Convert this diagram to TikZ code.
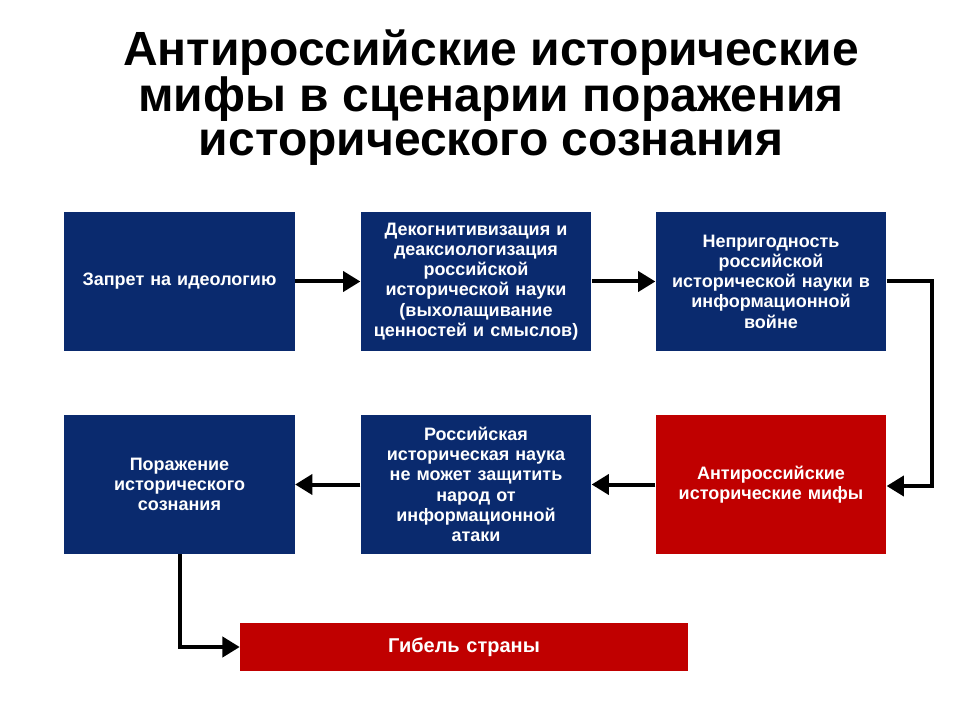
\documentclass[tikz,border=0pt]{standalone}
\usepackage{fontspec}
\setmainfont{Liberation Sans}
\usetikzlibrary{arrows.meta}
\definecolor{navy}{HTML}{0A2A6E}
\definecolor{dred}{HTML}{C00000}
\begin{document}
\begin{tikzpicture}[x=0.75pt,y=-0.75pt,
 box/.style={fill=navy,text=white,font=\bfseries\fontsize{13.5}{15.2}\selectfont,align=center,minimum width=173pt,minimum height=104pt,inner sep=1pt,text width=171pt},
 redbox/.style={box,fill=dred},
 arr/.style={line width=3pt,-{Triangle[length=13pt,width=15pt]}}]
\fill[white] (0,0) rectangle (960,720);
\node[font=\bfseries\fontsize{36}{33}\selectfont,align=center] (title) at (491,98) {Антироссийские исторические\\мифы в сценарии поражения\\исторического сознания};
\node[box] (b1) at (179.5,281.5) {Запрет на идеологию};
\node[box] (b2) at (476,281.5) {Декогнитивизация и\\деаксиологизация\\российской\\исторической науки\\(выхолащивание\\ценностей и смыслов)};
\node[box] (b3) at (771,281.5) {Непригодность\\российской\\исторической науки в\\информационной\\войне};
\node[redbox] (b4) at (771,484.5) {Антироссийские\\исторические мифы};
\node[box] (b5) at (476,484.5) {Российская\\историческая наука\\не может защитить\\народ от\\информационной\\атаки};
\node[box] (b6) at (179.5,484.5) {Поражение\\исторического\\сознания};
\node[redbox,minimum width=336pt,minimum height=36pt,text width=320pt,font=\bfseries\fontsize{15}{16}\selectfont] (b7) at (464,647) {Гибель страны};
\draw[arr] (b1) -- (b2);
\draw[arr] (b2) -- (b3);
\draw[arr] (b3.east) -- (932,281.5) -- (932,486) -- (b4.east |- 0,486);
\draw[arr] (b4) -- (b5);
\draw[arr] (b5) -- (b6);
\coordinate (c1) at (180,647);
\draw[arr] (b6.south -| c1) -- (c1) -- (b7.west);
\end{tikzpicture}
\end{document}
